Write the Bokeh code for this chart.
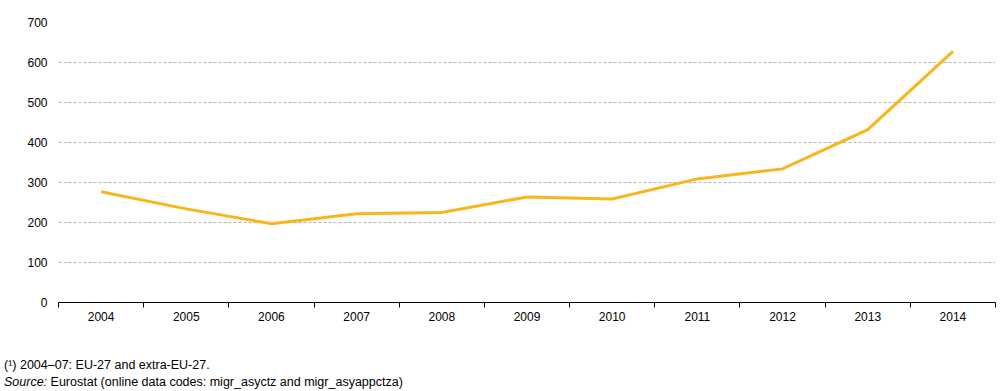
from bokeh.plotting import figure
from bokeh.models import FixedTicker, Div
from bokeh.layouts import column
from bokeh.embed import file_html
from bokeh.resources import INLINE

years = ["2004", "2005", "2006", "2007", "2008", "2009", "2010", "2011", "2012", "2013", "2014"]
values = [277, 234, 197, 222, 225, 264, 259, 309, 334, 432, 628]
y_ticks = [0, 100, 200, 300, 400, 500, 600, 700]
note1 = "(¹) 2004–07: EU-27 and extra-EU-27."
note2_italic = "Source:"
note2_rest = "Eurostat (online data codes: migr_asyctz and migr_asyappctza)"

FONT = "Liberation Sans"
x = [i + 0.5 for i in range(len(years))]

p = figure(width=1005, height=357, output_backend="svg", toolbar_location=None,
           x_range=(0, len(years)), y_range=(0, 700),
           min_border_left=58, min_border_right=10, min_border_top=22, min_border_bottom=55)
p.outline_line_color = None
p.background_fill_color = "white"
p.border_fill_color = "white"

p.line(x, values, line_color="#F9B51D", line_width=3, line_join="miter")

# x axis: labels at centers, ticks at boundaries
p.xaxis.ticker = FixedTicker(ticks=x, minor_ticks=list(range(len(years) + 1)))
p.xaxis.major_label_overrides = {xi: y for xi, y in zip(x, years)}
p.xaxis.major_tick_line_color = None
p.xaxis.minor_tick_line_color = "black"
p.xaxis.minor_tick_in = 0
p.xaxis.minor_tick_out = 5
p.xaxis.axis_line_color = "black"
p.xaxis.axis_line_width = 1
p.xaxis.major_label_text_font = FONT
p.xaxis.major_label_text_font_size = "12px"
p.xaxis.major_label_text_color = "#000000"
p.xaxis.major_label_standoff = 3

p.yaxis.ticker = FixedTicker(ticks=y_ticks)
p.yaxis.axis_line_color = None
p.yaxis.major_tick_line_color = None
p.yaxis.minor_tick_line_color = None
p.yaxis.major_label_text_font = FONT
p.yaxis.major_label_text_font_size = "12px"
p.yaxis.major_label_text_color = "#000000"
p.yaxis.major_label_standoff = 5

p.xgrid.grid_line_color = None
p.ygrid.grid_line_color = "#b4b4b4"
p.ygrid.grid_line_dash = "3 2"
p.ygrid.grid_line_width = 1

notes = Div(
    text=(f"<div>{note1}</div>"
          f"<div><i>{note2_italic}</i> {note2_rest}</div>"),
    width=1000, height=34,
    styles={"font-family": FONT, "font-size": "12.5px", "line-height": "17px",
            "color": "#000000", "margin-left": "4px", "margin-top": "0px"},
)

layout = column(p, notes, spacing=0)
open("out.html", "w").write(file_html(layout, INLINE))
